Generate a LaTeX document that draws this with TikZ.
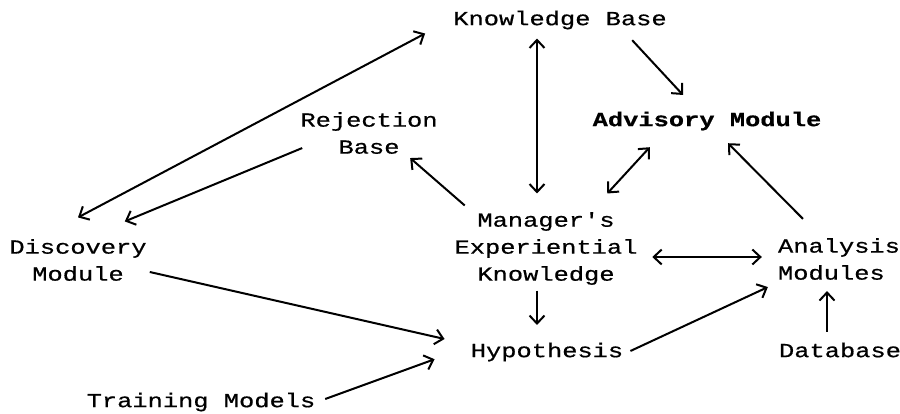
\documentclass[tikz,border=0pt]{standalone}
\usepackage{fontspec}
\usepackage{tikz}
\usetikzlibrary{arrows.meta,positioning}
\newfontfamily\typefont[FakeStretch=1.27,FakeBold=0.6]{Liberation Mono}

\begin{document}
\begin{tikzpicture}[
  x=1pt, y=-1pt,
  lbl/.style={inner sep=3pt, align=center,
              font=\typefont\fontsize{20}{27}\selectfont},
  arrow/.style={-{Straight Barb[length=8pt,width=15pt]}, line width=2pt},
  twoway/.style={{Straight Barb[length=8pt,width=15pt]}-{Straight Barb[length=8pt,width=15pt]}, line width=2pt}
]
\useasboundingbox (0,0) rectangle (900,414);
\node[lbl] (kb) at (560,20) {Knowledge Base};
\node[lbl] (rej) at (369,133) {Rejection\\Base};
\node[lbl] (adv) at (707,121) {\bfseries Advisory Module};
\node[lbl] (disc) at (78,260) {Discovery\\Module};
\node[lbl] (mgr) at (546,248.5) {Manager's\\Experiential\\Knowledge};
\node[lbl, align=left] (ana) at (839,259) {Analysis\\Modules};
\node[lbl] (hyp) at (547,352) {Hypothesis};
\node[lbl] (db) at (840,350) {Database};
\node[lbl] (train) at (201,402) {Training Models};

\draw[twoway] ([yshift=18.5pt]disc.north) -- ([xshift=-25pt,yshift=-1pt]kb.south west);
\draw[arrow] ([xshift=5pt,yshift=9pt]rej.south west) -- ([xshift=-25pt,yshift=14.5pt]disc.north east);
\draw[arrow] ([xshift=13.4pt,yshift=3.5pt]mgr.north west) -- ([xshift=-30.6pt,yshift=-1pt]rej.south east);
\draw[twoway] ([xshift=-23pt,yshift=-6pt]kb.south) -- ([xshift=-9pt,yshift=15.5pt]mgr.north);
\draw[arrow] ([xshift=-37.7pt,yshift=-7.7pt]kb.south east) -- ([xshift=-24pt,yshift=13.5pt]adv.north);
\draw[twoway] ([xshift=-33.4pt,yshift=15.5pt]mgr.north east) -- ([xshift=60.3pt,yshift=-13.7pt]adv.south west);
\draw[arrow] ([xshift=-36pt,yshift=16pt]ana.north) -- ([xshift=21pt,yshift=-9.7pt]adv.south);
\draw[twoway] ([xshift=11.6pt,yshift=-8.5pt]mgr.east) -- ([xshift=-13pt,yshift=2pt]ana.west);
\draw[arrow] ([xshift=-9pt,yshift=-2.7pt]mgr.south) -- ([xshift=-10pt,yshift=14.5pt]hyp.north);
\draw[arrow] ([xshift=4pt,yshift=1pt]hyp.east) -- ([xshift=-7pt,yshift=-4pt]ana.south west);
\draw[arrow] ([xshift=-13pt,yshift=7.5pt]db.north) -- ([xshift=-12pt,yshift=-8pt]ana.south);
\draw[arrow] ([yshift=-12pt]disc.east) -- ([xshift=-23pt,yshift=13pt]hyp.west);
\draw[arrow] ([xshift=6.7pt,yshift=3pt]train.east) -- ([xshift=-33pt,yshift=5.3pt]hyp.south west);
\end{tikzpicture}
\end{document}
